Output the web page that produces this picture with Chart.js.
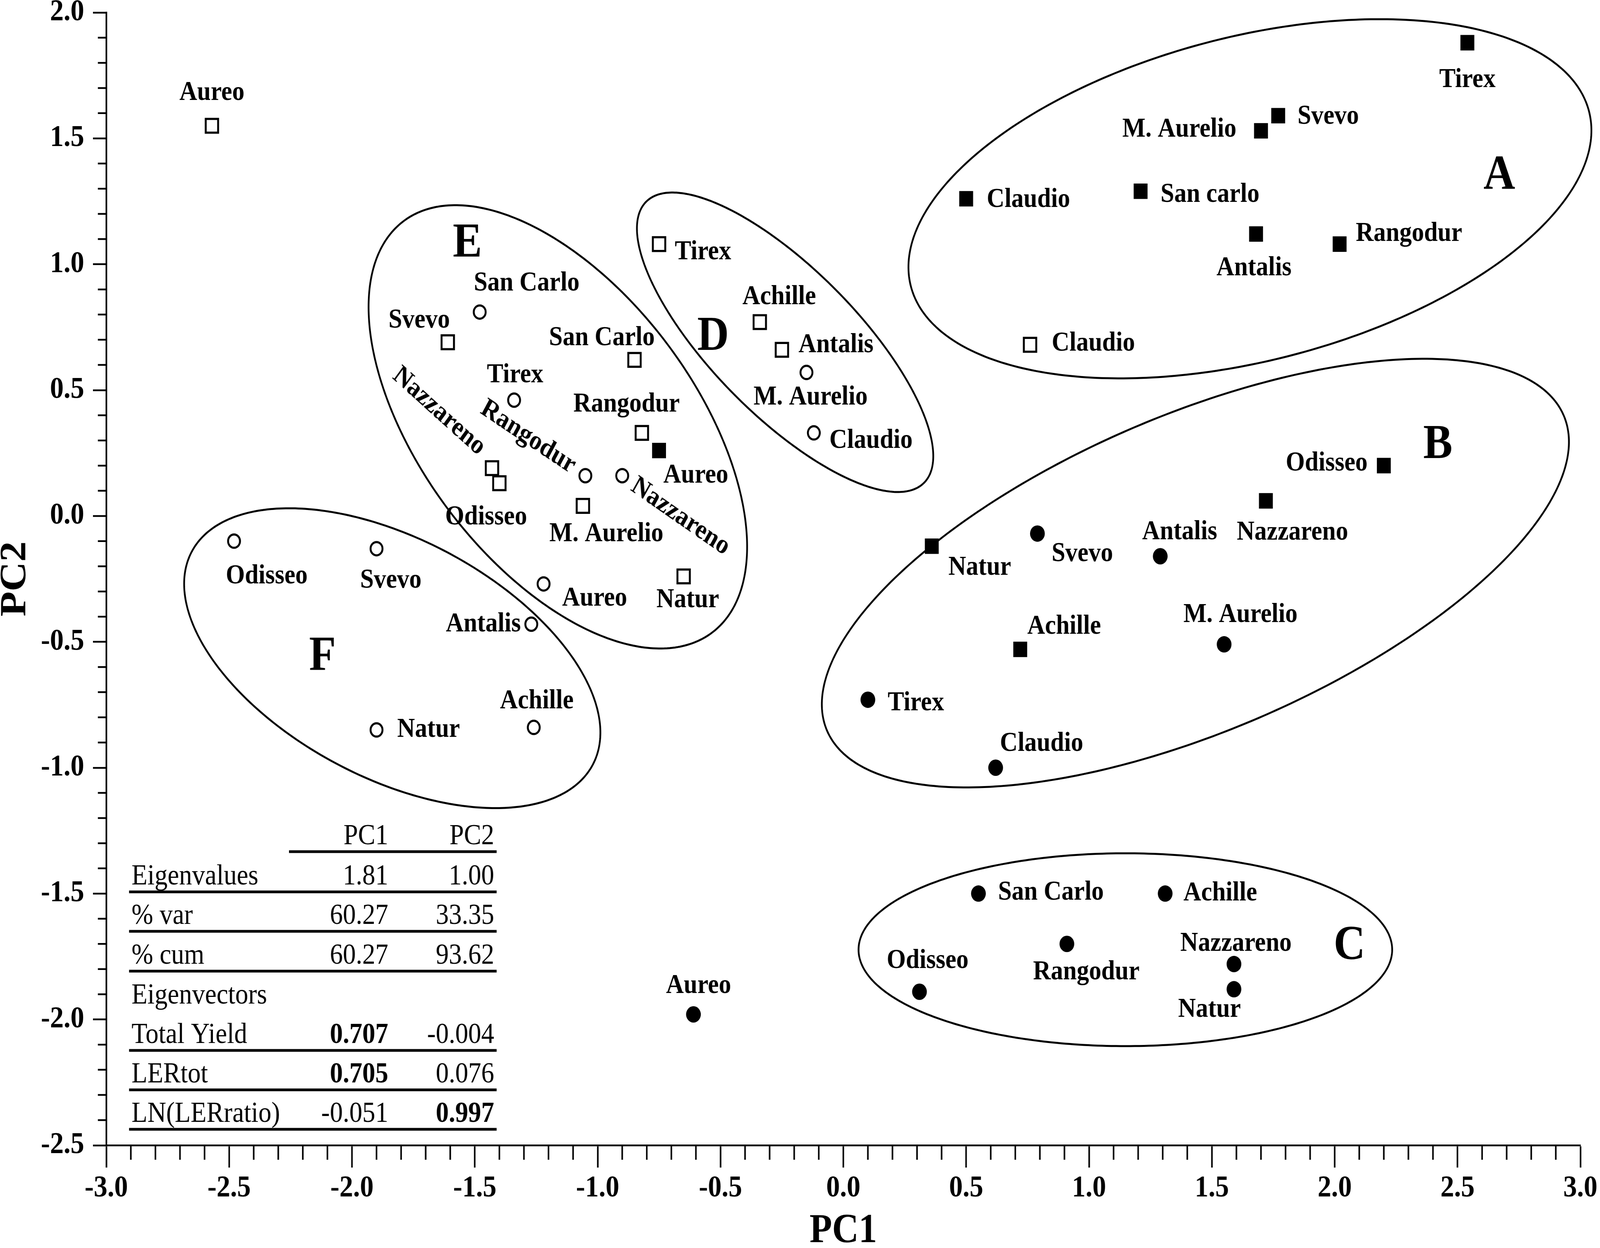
<!DOCTYPE html>
<html>
<head>
<meta charset="utf-8">
<script src="https://cdn.jsdelivr.net/npm/chart.js@4.4.1/dist/chart.umd.min.js"></script>
<style>
  html, body { margin: 0; padding: 0; background: #fff; overflow: hidden; }
  canvas { display: block; }
</style>
</head>
<body>
<canvas id="pcaChart" width="4562" height="3196" style="width:100vw;height:100vh"></canvas>
<script>
const cultivars = ['Achille', 'Antalis', 'Aureo', 'Claudio', 'M. Aurelio', 'Natur', 'Nazzareno', 'Odisseo', 'Rangodur', 'San Carlo', 'Svevo', 'Tirex'];

// filled squares
const sqFilledX = [0.72, 1.68, -0.75, 0.50, 1.70, 0.36, 1.72, 2.20, 2.02, 1.21, 1.77, 2.54];
const sqFilledY = [-0.53, 1.12, 0.26, 1.26, 1.53, -0.12, 0.06, 0.20, 1.08, 1.29, 1.59, 1.88];
// open squares
const sqOpenX = [-0.34, -0.25, -2.57, 0.76, -1.06, -0.65, -1.43, -1.40, -0.82, -0.85, -1.61, -0.75];
const sqOpenY = [0.77, 0.66, 1.55, 0.68, 0.04, -0.24, 0.19, 0.13, 0.33, 0.62, 0.69, 1.08];
// open circles
const ciOpenX = [-1.26, -1.27, -1.22, -0.12, -0.15, -1.90, -0.90, -2.48, -1.05, -1.48, -1.90, -1.34];
const ciOpenY = [-0.84, -0.43, -0.27, 0.33, 0.57, -0.85, 0.16, -0.10, 0.16, 0.81, -0.13, 0.46];
// filled circles
const ciFilledX = [1.31, 1.29, -0.61, 0.62, 1.55, 1.59, 1.59, 0.31, 0.91, 0.55, 0.79, 0.10];
const ciFilledY = [-1.50, -0.16, -1.98, -1.00, -0.51, -1.88, -1.78, -1.89, -1.70, -1.50, -0.07, -0.73];

const xTicks = { min: -3, max: 3, step: 0.5, minor: 0.1 };
const yTicks = { min: -2.5, max: 2.0, step: 0.5, minor: 0.1 };

// groups drawn as ellipses: centre and two conjugate half-axes, in data units
const groupLetters = ['A', 'B', 'C', 'D', 'E', 'F'];
const groupLetterX = [2.67, 2.42, 2.06, -0.53, -1.53, -2.12];
const groupLetterY = [1.35, 0.28, -1.71, 0.71, 1.08, -0.56];
const groupShapes = [
    { c: [1.655, 1.260], u: [1.384, 0.331], v: [0.128, -0.632] },
    { c: [1.433, -0.227], u: [1.507, 0.606], v: [0.202, -0.598] },
    { c: [1.148, -1.723], u: [1.086, 0], v: [0, -0.383] },
    { c: [-0.237, 0.690], u: [0.574, -0.549], v: [-0.185, -0.229] },
    { c: [-1.162, 0.354], u: [0.662, -0.788], v: [-0.394, -0.393] },
    { c: [-1.836, -0.565], u: [0.828, -0.398], v: [-0.179, -0.443] }
];

const tableHead = ['PC1', 'PC2'];
const tableRows = [
    ['Eigenvalues', '1.81', '1.00'],
    ['% var', '60.27', '33.35'],
    ['% cum', '60.27', '93.62'],
    ['Eigenvectors', '', ''],
    ['Total Yield', '0.707', '-0.004'],
    ['LERtot', '0.705', '0.076'],
    ['LN(LERratio)', '-0.051', '0.997']
];
const tableBold = [[4, 1], [5, 1], [6, 2]];

// label placement: offset from the marker [dx, dy, rotation deg] (reference px)
const K = 2.91;
const labelPlace = [
    [[43, -20], [-2, 30], [36, 22], [61, 1], [-80, -1], [47, 19], [26, 28], [-56, -2], [68, -9], [68, 3], [49, 1], [0, 33]],
    [[19, -22], [53, -4], [0, -29], [62, -1], [23, 25], [4, 21], [-52, -50, 39], [-13, 30], [-15, -25], [-32, -19], [-28, -19], [43, 7]],
    [[3, -23], [-47, 0], [50, 13], [56, 7], [4, 22], [51, 0], [57, 36, 32], [32, 31], [-56, -34, 31], [46, -25], [14, 28], [1, -22]],
    [[54, 0], [19, -21], [5, -25], [45, -21], [16, -26], [-24, 18], [2, -18], [8, -27], [19, 25], [71, -1], [44, 18], [47, 3]]
];

const SERIF = '"Liberation Serif", "Times New Roman", serif';

function toPoints(xs, ys) {
    return xs.map((x, i) => ({ x: x, y: ys[i] }));
}

const ellipsePlugin = {
    id: 'groupEllipses',
    beforeDatasetsDraw(chart) {
        const { ctx, scales: { x, y } } = chart;
        ctx.save();
        ctx.lineWidth = 5;
        ctx.strokeStyle = '#000';
        groupShapes.forEach(e => {
            ctx.beginPath();
            for (let i = 0; i <= 360; i++) {
                const t = i * Math.PI / 180;
                const px = x.getPixelForValue(e.c[0] + e.u[0] * Math.cos(t) + e.v[0] * Math.sin(t));
                const py = y.getPixelForValue(e.c[1] + e.u[1] * Math.cos(t) + e.v[1] * Math.sin(t));
                if (i === 0) ctx.moveTo(px, py); else ctx.lineTo(px, py);
            }
            ctx.closePath();
            ctx.stroke();
        });
        ctx.restore();
    }
};

const labelPlugin = {
    id: 'pointLabels',
    afterDatasetsDraw(chart) {
        const { ctx, scales: { x, y } } = chart;
        ctx.save();
        ctx.fillStyle = '#000';
        ctx.textAlign = 'center';
        ctx.textBaseline = 'middle';
        ctx.font = 'bold 70px ' + SERIF;
        chart.data.datasets.forEach((ds, di) => {
            const meta = chart.getDatasetMeta(di);
            meta.data.forEach((pt, i) => {
                const p = labelPlace[di][i];
                ctx.save();
                ctx.translate(pt.x + p[0] * K, pt.y + p[1] * K);
                if (p[2]) ctx.rotate(p[2] * Math.PI / 180);
                ctx.fillText(ds.names[i], 0, 0);
                ctx.restore();
            });
        });
        ctx.font = 'bold 125px ' + SERIF;
        groupLetters.forEach((g, i) => {
            ctx.fillText(g, x.getPixelForValue(groupLetterX[i]), y.getPixelForValue(groupLetterY[i]));
        });
        ctx.restore();
    }
};

const minorTickPlugin = {
    id: 'minorTicks',
    afterDraw(chart) {
        const { ctx, chartArea, scales: { x, y } } = chart;
        ctx.save();
        ctx.strokeStyle = '#000';
        ctx.lineWidth = 4.5;
        ctx.beginPath();
        const nx = Math.round((xTicks.max - xTicks.min) / xTicks.minor);
        for (let i = 0; i <= nx; i++) {
            if (i % 5 === 0) continue;
            const px = x.getPixelForValue(xTicks.min + i * xTicks.minor);
            ctx.moveTo(px, chartArea.bottom);
            ctx.lineTo(px, chartArea.bottom + 37);
        }
        const ny = Math.round((yTicks.max - yTicks.min) / yTicks.minor);
        for (let i = 0; i <= ny; i++) {
            if (i % 5 === 0) continue;
            const py = y.getPixelForValue(yTicks.min + i * yTicks.minor);
            ctx.moveTo(chartArea.left - 24, py);
            ctx.lineTo(chartArea.left, py);
        }
        ctx.stroke();
        ctx.restore();
    }
};

const tablePlugin = {
    id: 'eigenTable',
    afterDraw(chart) {
        const ctx = chart.ctx;
        const labelX = 375, col1 = 1107, col2 = 1409;
        const lineL = 368, lineR = 1416, headLineL = 824;
        const headBase = 2162;
        const rowBase = [2265, 2366, 2468, 2570, 2671, 2772, 2873];
        ctx.save();
        ctx.fillStyle = '#000';
        ctx.strokeStyle = '#000';
        ctx.lineWidth = 7;
        ctx.textBaseline = 'alphabetic';
        const regular = '74px ' + SERIF;
        const bold = 'bold 74px ' + SERIF;
        ctx.font = regular;
        ctx.textAlign = 'right';
        ctx.fillText(tableHead[0], col1, headBase);
        ctx.fillText(tableHead[1], col2, headBase);
        ctx.beginPath();
        ctx.moveTo(headLineL, headBase + 19);
        ctx.lineTo(lineR, headBase + 19);
        tableRows.forEach((row, r) => {
            const b = rowBase[r];
            ctx.font = regular;
            ctx.textAlign = 'left';
            ctx.fillText(row[0], labelX, b);
            ctx.textAlign = 'right';
            [col1, col2].forEach((cx, c) => {
                const isBold = tableBold.some(t => t[0] === r && t[1] === c + 1);
                ctx.font = isBold ? bold : regular;
                ctx.fillText(row[c + 1], cx, b);
            });
            if (row[1] !== '') {
                ctx.moveTo(lineL, b + 19);
                ctx.lineTo(lineR, b + 19);
            }
        });
        ctx.stroke();
        ctx.restore();
    }
};

const symbolSet = [
    { names: cultivars.map(c => c === 'San Carlo' ? 'San carlo' : c), data: toPoints(sqFilledX, sqFilledY), pointStyle: 'rect', pointRadius: 28, backgroundColor: '#000', borderWidth: 0 },
    { names: cultivars, data: toPoints(sqOpenX, sqOpenY), pointStyle: 'rect', pointRadius: 25, backgroundColor: '#fff', borderWidth: 5.5 },
    { names: cultivars, data: toPoints(ciOpenX, ciOpenY), pointStyle: 'circle', pointRadius: 17, backgroundColor: '#fff', borderWidth: 5.5 },
    { names: cultivars, data: toPoints(ciFilledX, ciFilledY), pointStyle: 'circle', pointRadius: 21, backgroundColor: '#000', borderWidth: 0 }
];

new Chart(document.getElementById('pcaChart').getContext('2d'), {
    type: 'scatter',
    data: {
        datasets: symbolSet.map(s => ({
            names: s.names,
            data: s.data,
            pointStyle: s.pointStyle,
            pointRadius: s.pointRadius,
            pointHoverRadius: s.pointRadius,
            backgroundColor: s.backgroundColor,
            borderColor: '#000',
            borderWidth: s.borderWidth,
            clip: false
        }))
    },
    options: {
        responsive: false,
        animation: false,
        devicePixelRatio: 1,
        events: [],
        layout: { padding: { left: 0, top: 32, right: 56, bottom: 0 } },
        plugins: {
            legend: { display: false },
            tooltip: { enabled: false }
        },
        scales: {
            x: {
                type: 'linear',
                position: 'bottom',
                min: xTicks.min,
                max: xTicks.max,
                afterFit: scale => { scale.height = 263; },
                ticks: {
                    stepSize: xTicks.step,
                    autoSkip: false,
                    maxRotation: 0,
                    padding: 7,
                    color: '#000',
                    font: { family: SERIF, size: 78, weight: 'bold', lineHeight: 1.2 },
                    callback: v => Number(v).toFixed(1)
                },
                grid: { drawOnChartArea: false, drawTicks: true, tickLength: 57, tickWidth: 4.5, tickColor: '#000' },
                border: { display: true, color: '#000', width: 4.5 },
                title: {
                    display: true,
                    text: 'PC1',
                    color: '#000',
                    font: { family: SERIF, size: 105, weight: 'bold', lineHeight: 0.8 },
                    padding: { top: 2, bottom: 0 }
                }
            },
            y: {
                type: 'linear',
                position: 'left',
                min: yTicks.min,
                max: yTicks.max,
                afterFit: scale => { scale.width = 303; },
                ticks: {
                    stepSize: yTicks.step,
                    autoSkip: false,
                    padding: 25,
                    color: '#000',
                    font: { family: SERIF, size: 78, weight: 'bold', lineHeight: 0.1 },
                    callback: v => Number(v).toFixed(1)
                },
                grid: { drawOnChartArea: false, drawTicks: true, tickLength: 38, tickWidth: 4.5, tickColor: '#000' },
                border: { display: true, color: '#000', width: 4.5 },
                title: {
                    display: true,
                    text: 'PC2',
                    color: '#000',
                    font: { family: SERIF, size: 105, weight: 'bold', lineHeight: 0.8 },
                    padding: { top: 3, bottom: 0 }
                }
            }
        }
    },
    plugins: [ellipsePlugin, labelPlugin, minorTickPlugin, tablePlugin]
});
</script>
</body>
</html>
